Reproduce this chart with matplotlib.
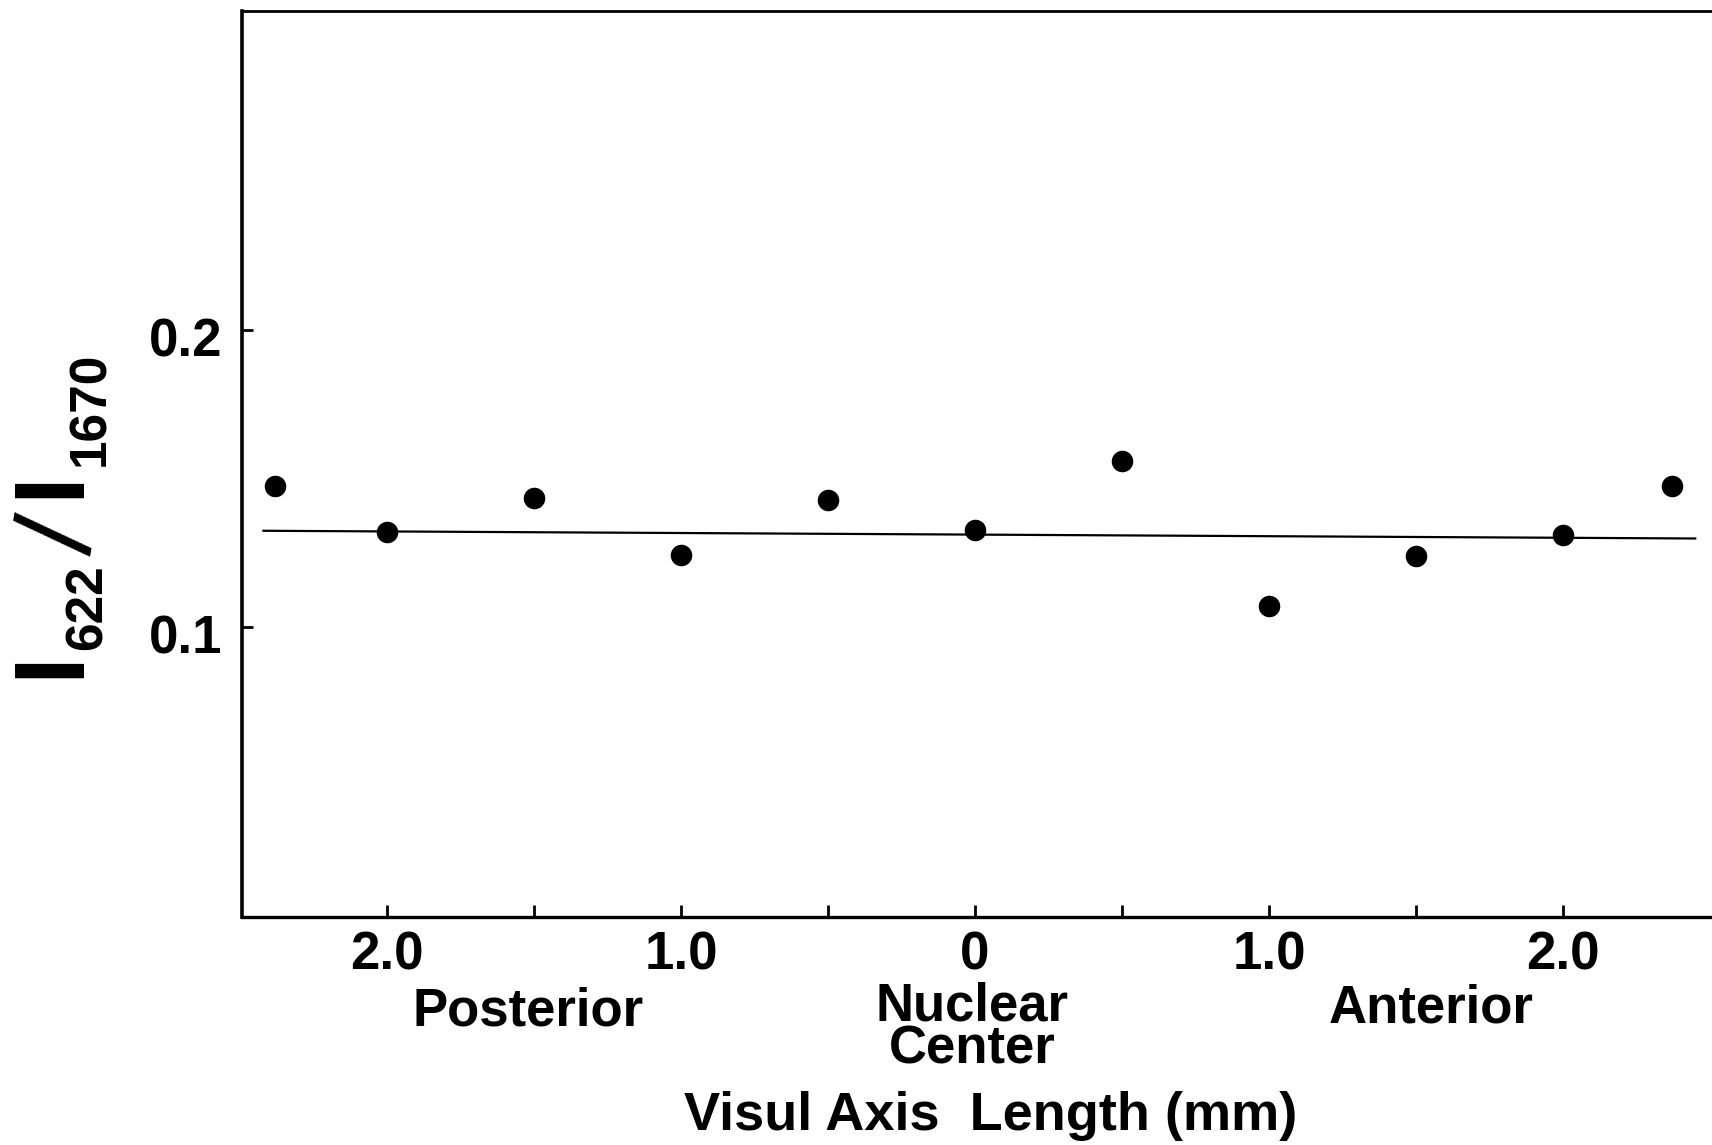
import matplotlib
matplotlib.use("Agg")
import matplotlib.pyplot as plt
import matplotlib.transforms as mtransforms

# ---- data ----
positions = [-2.38, -2.0, -1.5, -1.0, -0.5, 0.0, 0.5, 1.0, 1.5, 2.0, 2.37]
ratios = [0.1474, 0.1320, 0.1434, 0.1243, 0.1426, 0.1327, 0.1559, 0.1070, 0.1239, 0.1309, 0.1474]
fit_x = [-2.42, 2.45]
fit_y = [0.1324, 0.1298]

xtick_pos = [-2.0, -1.5, -1.0, -0.5, 0.0, 0.5, 1.0, 1.5, 2.0]
xtick_labels = ["2.0", "", "1.0", "", "0", "", "1.0", "", "2.0"]
ytick_pos = [0.1, 0.2]
ytick_labels = ["0.1", "0.2"]
region_labels = ["Posterior", "Nuclear\nCenter", "Anterior"]
region_pos = [-1.52, -0.01, 1.55]

plt.rcParams['font.family'] = ['Liberation Sans', 'DejaVu Sans']
plt.rcParams['font.weight'] = 'bold'

W, H = 1712, 1145
fig = plt.figure(figsize=(W / 100, H / 100), dpi=100)
ax = fig.add_axes([242 / W, 1 - 917 / H, 1470 / W, 906 / H])

ax.plot(positions, ratios, 'o', color='black', markersize=14.5, zorder=3)
ax.plot(fit_x, fit_y, '-', color='black', linewidth=1.6)

ax.set_xlim(-2.493, 2.507)
ax.set_ylim(0.00236, 0.3074)

ax.set_xticks(xtick_pos)
ax.set_xticklabels(xtick_labels, fontsize=38, fontweight='bold')
ax.set_yticks(ytick_pos)
ax.set_yticklabels(ytick_labels, fontsize=38, fontweight='bold')
ax.tick_params(axis='x', direction='in', length=9, width=2, pad=10)
ax.tick_params(axis='y', direction='in', length=8, width=2, pad=14)

# y tick labels sit slightly below their ticks in the reference
shift = mtransforms.ScaledTranslation(0, -7 / 100, fig.dpi_scale_trans)
for lab in ax.get_yticklabels():
    lab.set_transform(lab.get_transform() + shift)

ax.spines['right'].set_visible(False)
ax.spines['left'].set_linewidth(2.6)
ax.spines['bottom'].set_linewidth(2.4)
ax.spines['top'].set_linewidth(2.0)

# region labels under the x axis
xt = ax.get_xaxis_transform()
region_y = [-0.1045, -0.1225, -0.1015]
for lab, p, yy in zip(region_labels, region_pos, region_y):
    ax.text(p, yy, lab, ha='center', va='center', fontsize=38,
            fontweight='bold', linespacing=0.82, transform=xt)

fig.text(991 / W, 1 - 1116 / H, "Visul Axis  Length (mm)", ha='center',
         va='center', fontsize=39, fontweight='bold')

# y label: I_622 / I_1670 built from pieces
def ytext(px, py, s, size, rot=90, weight='bold'):
    fig.text(px / W, 1 - py / H, s, rotation=rot, rotation_mode='anchor',
             ha='left', va='baseline', fontsize=size, fontweight=weight)

ytext(78, 678, "I", 72)
ytext(102, 650, "622", 37)
ytext(90, 556, "/", 80, rot=80, weight='normal')
ytext(78, 498, "I", 72)
ytext(104, 466, "1670", 37)

fig.savefig("out.png", dpi=100)
